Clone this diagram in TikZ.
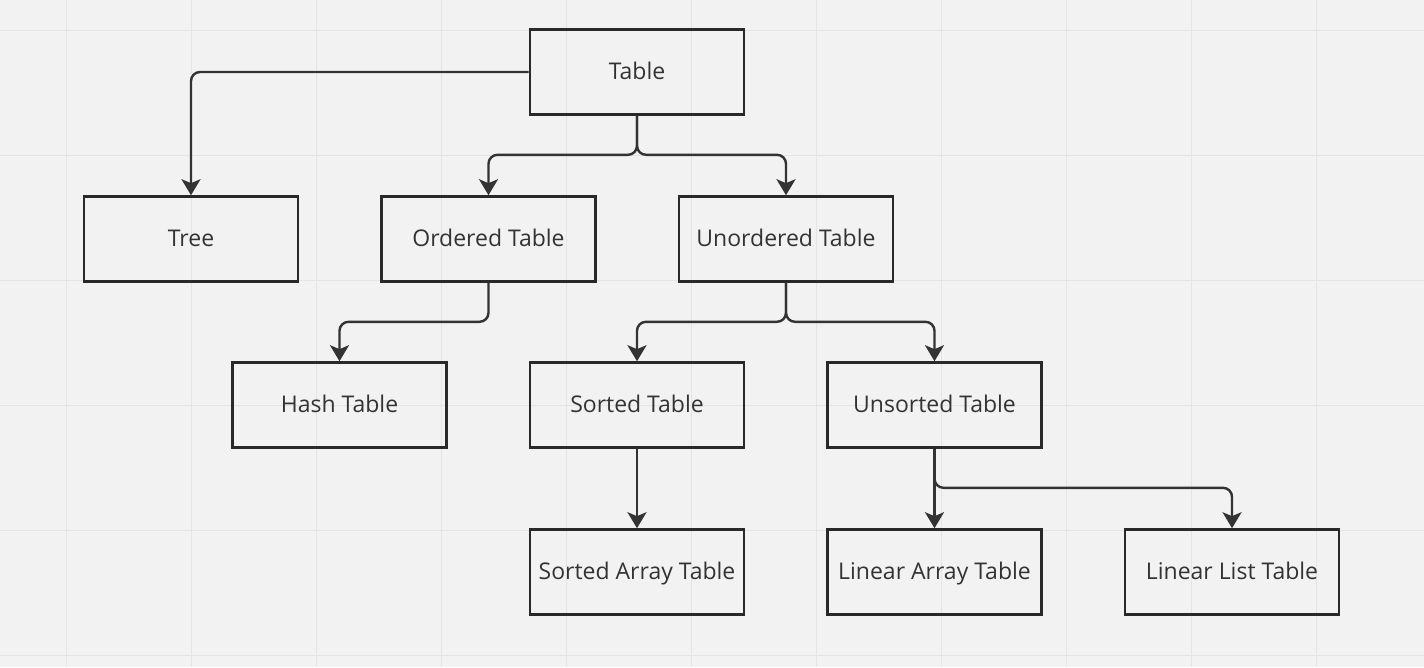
\documentclass[tikz,border=0pt]{standalone}
\usepackage{fontspec}
\setmainfont{Open Sans}
\usepackage{tikz}
\usetikzlibrary{arrows.meta,positioning}

\definecolor{bgpaper}{HTML}{F2F2F2}
\definecolor{gridline}{HTML}{E4E4E4}
\definecolor{ink}{HTML}{333333}

\begin{document}
\begin{tikzpicture}[
    x=1pt,y=-1pt,
    box/.style={draw=ink!80!black,line width=2.6pt,minimum width=214pt,minimum height=85pt,
      inner sep=0pt,text height=18pt,text depth=3pt,font=\fontsize{23}{27}\selectfont,text=ink},
    link/.style={draw=ink,line width=2.4pt,rounded corners=9pt},
    >={Stealth[length=16pt,width=19pt,inset=4pt]}
  ]
    % paper and grid
    \fill[bgpaper] (0,0) rectangle (1424,667);
    \useasboundingbox (0,0) rectangle (1424,667);
    \foreach \gx in {66,191,...,1316}
      \draw[gridline,line width=1pt] (\gx,0) -- (\gx,667);
    \foreach \gy in {30,155,...,655}
      \draw[gridline,line width=1pt] (0,\gy) -- (1424,\gy);

    \node[box] (table) at (637,72) {Table};
    \node[box] (tree) at (191,239) {Tree};
    \node[box] (ordered) at (488.5,239) {Ordered Table};
    \node[box] (unordered) at (786,239) {Unordered Table};
    \node[box] (hash) at (339.5,405) {Hash Table};
    \node[box] (sorted) at (637,405) {Sorted Table};
    \node[box] (unsorted) at (934.5,405) {Unsorted Table};
    \node[box] (sortarr) at (637,572) {Sorted Array Table};
    \node[box] (linarr) at (934.5,572) {Linear Array Table};
    \node[box] (linlist) at (1232,572) {Linear List Table};

    \draw[link,->] (table.west) -| (tree.north);
    \draw[link,->] (table.south) -- ++(0,39) -| (ordered.north);
    \draw[link,->] (table.south) -- ++(0,39) -| (unordered.north);
    \draw[link,->] (ordered.south) -- ++(0,39) -| (hash.north);
    \draw[link,->] (unordered.south) -- ++(0,39) -| (sorted.north);
    \draw[link,->] (unordered.south) -- ++(0,39) -| (unsorted.north);
    \draw[link,->] (sorted) -- (sortarr);
    \draw[link,->] (unsorted) -- (linarr);
    \draw[link,->] (unsorted.south) -- ++(0,39) -| (linlist.north);
  \end{tikzpicture}
\end{document}
